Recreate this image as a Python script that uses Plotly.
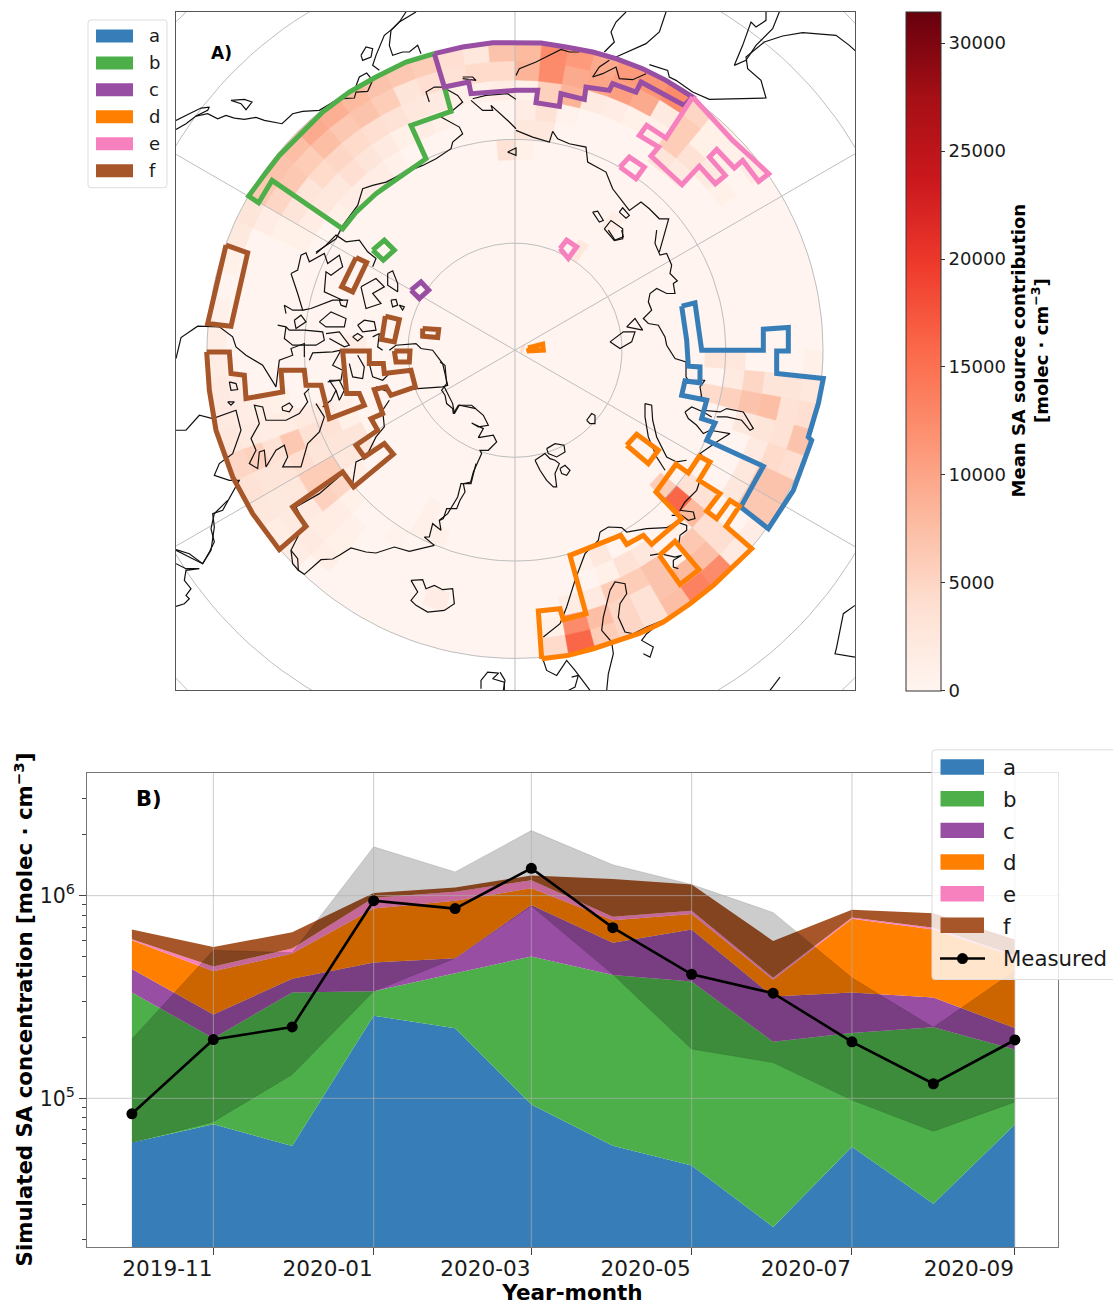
import math
import plotly.graph_objects as go
from plotly.colors import sample_colorscale

# ---------- panel B data (molec cm-3, stacked boundaries) ----------
months = ["2019-10-01", "2019-11-01", "2019-12-01", "2020-01-01", "2020-02-01", "2020-03-01",
          "2020-04-01", "2020-05-01", "2020-06-01", "2020-07-01", "2020-08-01", "2020-09-01"]
top_a = [60500, 74500, 58100, 255700, 221600, 93300, 58300, 46600, 23200, 57600, 30200, 74200]
top_b = [333000, 198000, 333000, 337000, 414000, 501000, 406000, 377000, 190000, 210000, 224000, 174000]
top_c = [435000, 259000, 389000, 468000, 491000, 899000, 586000, 681000, 318000, 333000, 314000, 222000]
top_d = [603000, 423000, 518000, 863000, 944000, 1089000, 755000, 812000, 385000, 770000, 681000, 501000]
top_e = [610000, 447000, 549000, 976000, 1046000, 1192000, 786000, 843000, 393000, 780000, 695000, 508000]
top_f = [681000, 558000, 659000, 1029000, 1098000, 1257000, 1207000, 1135000, 598000, 853000, 819000, 608000]
measured = [83900, 195000, 225000, 944000, 863000, 1364000, 695000, 409000, 330000, 190000, 118000, 194000]
meas_upper = [196000, 537000, 523000, 1742000, 1309000, 2094000, 1420000, 1135000, 826000, 393000, 224000, 426000]
meas_lower = [60500, 76700, 131000, 337000, 491000, 889000, 409000, 175000, 150000, 98000, 68700, 96000]

names = ["a", "b", "c", "d", "e", "f"]
colors = ["#377eb8", "#4daf4a", "#984ea3", "#ff7f00", "#f781bf", "#a65628"]
tops = [top_a, top_b, top_c, top_d, top_e, top_f]
x_ticks = ["2019-11-01", "2020-01-01", "2020-03-01", "2020-05-01", "2020-07-01", "2020-09-01"]
x_range = ["2019-09-13 22:00", "2020-09-17 10:00"]
y_major = [1e5, 1e6]
y_minor = [2e4, 3e4, 4e4, 5e4, 6e4, 7e4, 8e4, 9e4, 2e5, 3e5, 4e5, 5e5, 6e5, 7e5, 8e5, 9e5, 2e6, 3e6]

# ---------- panel A data: mean source contribution, cell = lat band -> {west lon: value} ----------
ring_60 = {-180: 7000, -175: 2500, -170: 4000, -165: 6000, -160: 6500, -155: 7000, -150: 8000, -145: 9000,
           -140: 9500, -135: 7500, -130: 7000, -125: 6500, -120: 3000, -115: 2200, -110: 1000, -100: 800, -95: 1200,
           -90: 1500, -85: 2000, -80: 2000, -75: 2500, -70: 5000, -65: 3500, -60: 2500, -55: 1800, -50: 1500,
           5: 4500, 10: 16000, 15: 6000, 20: 5000, 25: 3500, 30: 7500, 35: 13500, 40: 12500, 45: 2000, 50: 1500,
           55: 6500, 60: 7000, 65: 4000, 70: 7000, 75: 4000, 80: 2500, 85: 1000,
           125: 1500, 130: 800, 135: 1000, 140: 5000, 145: 12500, 150: 11500, 155: 11000, 160: 9500,
           165: 11000, 170: 12500, 175: 8000}
ring_62 = {-180: 4500, -175: 4500, -170: 3500, -165: 4000, -160: 3000, -155: 6000, -150: 7000, -145: 6500,
           -140: 7500, -135: 6000, -130: 6500, -125: 5000, -120: 1500, -85: 1500, -80: 1500, -75: 2000, -70: 5500,
           -65: 3000, -60: 2200, -55: 2000, -50: 2000, -45: 1200, 5: 1000, 10: 12500, 15: 7500, 20: 5000, 25: 3500,
           30: 7000, 35: 8000, 40: 7500, 45: 4000, 55: 6500, 60: 7000, 65: 4500, 70: 3500, 75: 3500, 80: 3000,
           130: 1000, 135: 1000, 140: 6000, 145: 2000, 150: 9500, 155: 10500, 160: 10000, 165: 9500,
           170: 12500, 175: 8500}
ring_64 = {-180: 1500, -175: 800, -170: 700, -165: 2000, -160: 2500, -155: 3500, -150: 4000, -145: 4500,
           -140: 5000, -135: 4500, -130: 3000, -125: 3000, -120: 1000, -80: 1200, -75: 1500, -70: 3500, -65: 3000,
           -60: 2500, -55: 2000, -50: 1800, -45: 1000, -20: 1500, 10: 1500, 15: 2000, 20: 6000, 25: 6000, 30: 7000,
           40: 6500, 45: 4000, 55: 2500, 60: 2500, 65: 2000, 70: 3000, 75: 7500, 80: 3000,
           125: 1000, 130: 2000, 135: 3500, 140: 6000, 145: 800, 150: 1000, 155: 1500, 160: 2000, 165: 8500,
           170: 5500, 175: 800}
ring_66 = {-165: 800, -160: 1500, -155: 1000, -150: 2000, -145: 3000, -140: 4000, -135: 2500, -130: 2500, -125: 1500,
           -120: 1000, -80: 1000, -75: 1800, -70: 6500, -65: 4000, -60: 6000, -55: 5500, -50: 1500, -45: 800,
           20: 1000, 25: 3500, 30: 2500, 40: 1000, 45: 8000, 50: 3500, 70: 2500, 75: 7000, 80: 5000,
           135: 2000, 140: 3000, 165: 500, 170: 3500, 175: 1500}
ring_68 = {-150: 800, -145: 1500, -140: 1500, -135: 1500, -130: 1000, -75: 2000, -70: 3500, -65: 3000, -60: 6000,
           -55: 5000, -50: 1000, -35: 600, 15: 1000, 20: 2500, 45: 16000, 50: 3500, 75: 5500, 80: 2000, 85: 2500,
           170: 2500, 175: 2500}
ring_70 = {-180: 3500, -75: 2000, -70: 3500, -65: 3000, -60: 2500, -55: 1200, -30: 700, -25: 700,
           45: 6000, 75: 4500, 85: 3000, 175: 900}
ring_72 = {-75: 800, -70: 1000, -65: 3000, -60: 2500, -30: 700}
ring_74 = {-95: 1500, 140: 1200}
ring_78 = {145: 2500}
rings = {60: ring_60, 62: ring_62, 64: ring_64, 66: ring_66, 68: ring_68, 70: ring_70, 72: ring_72, 74: ring_74, 78: ring_78}

map_lats = [80, 70, 60, 50, 40]
map_lons = [0, 60, 120, 180, -60, -120]
cbar_ticks = [0, 5000, 10000, 15000, 20000, 25000, 30000]
cbar_max = 31440
reds = [[0, "#fff5f0"], [.125, "#fee0d2"], [.25, "#fcbba1"], [.375, "#fc9272"], [.5, "#fb6a4a"],
        [.625, "#ef3b2c"], [.75, "#cb181d"], [.875, "#a50f15"], [1, "#67000d"]]

# ---------- digitised outlines: (tile west, tile north), then points on a 3x grid inside the tile ----------
T1 = (176, 12); T2 = (516, 12); T3 = (176, 230); T4 = (560, 230); T5 = (500, 440); T6 = (176, 500); T9 = (440, 300)

coast = [
 (T1, [(0,352),(30,335),(60,312),(95,295),(100,285),(75,288),(40,305),(0,325)]),
 (T1, [(60,312),(95,305),(125,320),(150,310),(175,318),(205,322),(240,316),(265,325),(318,335),(350,305),(380,298),(430,295),(480,265),(500,260),(535,258),(540,240),(575,238),(590,205),(572,183),(550,195),(540,222)]),
 (T1, [(610,175),(590,160),(600,130),(625,70),(650,50),(670,30),(720,0)]),
 (T1, [(555,130),(570,105),(590,110),(585,135),(560,145),(555,130)]),
 (T1, [(690,0),(670,30),(645,55),(640,100),(650,130),(680,120),(700,120),(725,100),(735,125)]),
 (T1, [(165,265),(205,262),(228,270),(210,293),(195,275),(165,265)]),
 (T1, [(760,270),(750,240),(775,225),(800,225),(845,250),(860,270),(830,295),(795,315),(850,345),(860,365),(830,390),(825,410),(780,440),(740,460),(690,480),(630,510),(590,520),(560,530),(545,580),(500,640),(480,680),(420,720)]),
 (T1, [(885,265),(920,295),(950,295),(945,280),(1000,330),(1020,350)]),
 (T1, [(890,260),(930,250),(995,245),(1020,262)]),
 (T1, [(860,195),(890,195),(900,205),(860,200)]),
 (T1, [(995,420),(1020,408),(1020,430),(995,420)]),
 (T2, [(0,355),(50,375),(100,390),(110,358),(125,380),(160,395),(210,405),(215,450),(270,480),(290,530),(340,595),(375,570),(400,590),(430,620),(458,620),(445,670),(430,720)]),
 (T2, [(0,190),(10,170),(60,150),(135,112),(160,120),(190,120)]),
 (T2, [(265,120),(295,90),(285,60),(300,30),(330,0)]),
 (T2, [(300,135),(390,95),(430,60),(450,0)]),
 (T2, [(400,158),(455,175),(460,195),(480,205),(530,240),(580,262),(750,258),(735,205),(695,170),(690,135),(745,90),(800,72),(860,62),(960,70),(1000,100),(1020,118)]),
 (T2, [(655,160),(680,100),(705,30),(720,45),(750,25),(750,0)]),
 (T2, [(655,160),(690,145),(720,100),(770,50),(790,0)]),
 (T2, [(230,195),(250,165),(280,145)]),
 (T2, [(230,195),(260,185),(300,165),(310,200),(350,203),(390,185)]),
 (T2, [(230,600),(245,597),(262,625),(250,630),(230,600)]),
 (T2, [(310,600),(320,587),(340,610),(330,618),(310,600)]),
 (T2, [(265,650),(285,625),(320,650),(320,680),(295,685),(265,650)]),
 (T3, [(0,385),(15,322),(65,288),(130,290),(170,320),(180,350),(210,375),(260,405),(300,470),(310,390),(350,375),(345,355),(385,340),(385,380)]),
 (T3, [(400,390),(410,368),(470,365),(495,360),(470,405),(500,420),(495,450),(460,450),(480,480),(465,510),(440,530)]),
 (T3, [(160,455),(180,460),(185,478),(165,480),(160,455)]),
 (T3, [(155,515),(175,515),(165,525),(155,515)]),
 (T3, [(318,530),(340,518),(350,530),(340,545),(320,540),(318,530)]),
 (T3, [(420,520),(445,560),(430,605),(395,640),(375,710),(320,710),(335,680),(325,645),(300,660),(270,710),(265,660),(250,665),(245,715),(220,700),(240,660),(225,625),(250,580),(235,525),(260,530),(270,570),(330,570),(370,550),(395,515),(385,490),(400,475)]),
 (T3, [(0,600),(30,600),(70,555),(110,565),(180,540),(195,600),(170,670),(130,700),(115,735),(160,750),(190,750),(140,840),(110,850),(115,890),(105,960),(80,1000),(50,985),(0,960)]),
 (T3, [(345,130),(365,120),(375,75),(390,68),(400,95),(445,70),(455,100),(490,75),(500,110),(465,135),(450,125),(445,185),(500,210),(470,210),(405,235),(380,240),(365,190),(345,130)]),
 (T3, [(420,70),(450,45),(480,15),(510,35),(550,30),(575,65),(600,85),(590,110)]),
 (T3, [(330,250),(325,225),(350,240),(380,240)]),
 (T3, [(305,285),(330,290),(340,300),(385,300),(440,305),(445,330),(420,345),(350,345),(325,325),(330,290)]),
 (T3, [(355,270),(375,255),(390,275),(360,295),(355,270)]),
 (T3, [(430,275),(465,245),(510,265),(505,290),(450,290),(430,275)]),
 (T3, [(545,285),(565,270),(595,275),(600,300),(560,305),(545,285)]),
 (T3, [(530,320),(545,310),(560,320),(545,332),(530,320)]),
 (T3, [(450,310),(490,305),(520,345),(505,350),(460,325)]),
 (T3, [(635,130),(650,122),(665,160),(665,185),(635,165),(635,130)]),
 (T3, [(645,210),(660,208),(665,225),(650,230),(645,210)]),
 (T3, [(670,225),(685,230),(680,240),(670,225)]),
 (T3, [(555,170),(600,145),(625,170),(590,190),(615,220),(570,235),(555,170)]),
 (T3, [(490,210),(515,210),(510,230),(495,225),(490,210)]),
 (T3, [(520,400),(530,440),(560,445),(565,410),(545,375)]),
 (T3, [(580,400),(590,440),(620,450),(640,430)]),
 (T3, [(455,455),(490,450),(505,480),(490,510),(480,480)]),
 (T3, [(590,320),(610,310),(605,350),(620,360)]),
 (T3, [(600,470),(650,490),(690,480),(725,475),(800,470),(815,465),(800,400),(770,360),(735,355),(720,340),(660,345),(640,360)]),
 (T3, [(640,510),(620,540),(625,590),(600,620),(570,680),(540,695),(530,760),(500,730),(430,790),(360,830),(385,880),(345,960),(350,1000),(367,1020)]),
 (T3, [(805,470),(830,520),(835,550),(850,525),(900,535)]),
 (T9, [(0,185),(15,195),(20,250),(5,270),(15,285),(20,310),(38,325),(40,340),(55,315),(95,315),(130,345),(145,375),(115,380),(95,368),(130,385),(115,412),(160,405),(170,425),(145,450),(120,450),(125,460),(100,515),(92,545),(70,550),(75,575),(60,600),(50,625),(20,625),(10,655),(0,660)]),
 (T9, [(285,480),(315,460),(330,475),(345,480),(358,490),(345,520),(350,560),(340,560),(320,540),(300,510),(285,480)]),
 (T9, [(320,445),(345,430),(372,435),(375,455),(350,470),(325,460),(320,445)]),
 (T9, [(360,505),(375,495),(390,510),(380,525),(365,520),(360,505)]),
 (T9, [(440,360),(455,340),(465,345),(465,370),(450,370),(440,360)]),
 (T3, [(900,700),(885,760),(855,760),(845,800),(815,850),(790,870),(795,900),(770,880),(760,920),(745,920),(775,945)]),
 (T6, [(775,135),(700,153),(655,140),(600,158),(570,155),(525,143),(490,165),(470,176),(435,178),(385,222),(367,210),(365,175),(345,150)]),
 (T6, [(705,240),(740,238),(750,265),(775,255),(800,268),(830,265),(835,310),(805,330),(755,335),(720,315),(705,300),(725,275),(705,240)]),
 (T6, [(155,0),(115,40),(105,85),(115,125),(100,155),(80,190),(40,160),(0,148)]),
 (T6, [(0,190),(30,205),(70,205),(30,210),(25,240),(45,265),(30,285),(40,295),(25,310),(0,318)]),
 (T6, [(915,565),(915,540),(935,515),(968,518),(950,535),(985,545),(985,570)]),
 (T4, [(290,0),(285,40),(300,75),(320,70),(335,105),(330,130),(352,152),(340,160),(345,190),(320,190),(290,175),(270,190),(265,215),(275,240),(250,265),(265,280),(295,285),(315,320),(320,345),(345,385),(378,395),(378,440),(385,450),(435,450),(420,470),(425,500),(395,505),(440,510),(430,540),(480,545),(500,535),(550,545),(580,595),(570,600),(545,570),(500,560),(470,560)]),
 (T4, [(375,545),(395,530),(430,545),(455,560)]),
 (T4, [(375,545),(385,565),(410,585),(430,610),(450,600),(480,605),(510,610),(470,635),(420,670),(440,690)]),
 (T4, [(150,335),(190,305),(225,305),(215,335),(180,355),(150,335)]),
 (T4, [(200,290),(225,265),(248,300),(200,290)]),
 (T4, [(145,0),(165,30),(190,20),(185,0)]),
 (T4, [(255,520),(275,525),(278,570),(290,620),(320,680),(350,695),(380,690)]),
 (T4, [(255,520),(255,560),(265,620),(290,680),(315,720)]),
 (T5, [(600,120),(590,150),(555,185),(540,210),(580,215),(585,235),(565,240),(545,225),(515,225)]),
 (T5, [(300,275),(325,260),(365,262),(380,275),(440,265),(500,262),(530,245),(560,255),(560,270),(540,285),(535,320)]),
 (T5, [(450,345),(480,340),(525,350),(545,345),(520,360),(520,380),(535,385)]),
 (T5, [(330,450),(345,425),(375,430),(380,460),(360,490),(355,530),(375,575),(400,580),(440,560),(490,540),(440,580),(425,600),(460,620),(450,650),(430,640)]),
 (T5, [(300,275),(295,300),(255,340),(225,420),(200,500),(180,550),(130,590)]),
 (T5, [(330,450),(310,530),(305,570),(335,605),(340,640),(325,700),(320,750)]),
 (T5, [(130,660),(140,690),(170,705),(200,660),(225,690),(270,750)]),
 (T5, [(215,710),(235,705),(225,740),(205,750)]),
 (T5, [(840,710),(825,730),(810,750)]),
 (T5, [(1065,495),(1030,520),(1010,620),(1005,640),(1065,650)]),
 (T5, [(0,695),(15,720),(10,750)]),
]

region_a = [[(T4, [(365,228),(405,218),(425,360),(610,360),(610,297),(685,292),(685,362),(650,362),(650,430),(790,445),(775,520),(745,620)]),
             (T5, [(935,0),(880,150),(805,265),(722,200),(790,78),(620,0)]),
             (T4, [(440,630),(465,578),(425,565),(440,510),(365,495),(375,452),(420,458),(420,410),(385,408),(380,330),(365,228)])]]
region_b = [[(T1, [(775,125),(690,150),(600,195),(520,240),(440,300),(370,370),(310,430),(260,495),(218,552),(248,572),(288,505),(500,650),(540,600),(600,545),(680,490),(750,440),(705,340),(825,298),(805,225)])],
            [(T3, [(590,60),(625,30),(655,60),(622,90),(590,60)])]]
region_c = [[(T1, [(775,125),(860,105),(950,92)]),
             (T2, [(0,92),(75,93),(150,105),(230,120),(300,140),(380,170),(450,205),(530,255),(505,280),(375,210),(360,240),(290,215),(280,235),(210,225),(205,262),(135,245),(130,283),(60,272),(65,235),(0,235)]),
             (T1, [(885,245),(878,210),(805,225),(775,125)])],
            [(T3, [(705,180),(735,155),(758,180),(730,205),(705,180)])]]
region_d = [[(T5, [(125,655),(205,645),(280,625),(345,605),(420,578),(490,545),(570,490),(640,435),(700,380),(755,325),(678,258),(718,198),(690,180),(650,235),(620,212),(660,160),(597,120),(630,65),(598,48),(565,98),(528,72),(468,155),(545,235),(455,312),(430,285),(380,312),(362,285),(210,345),(258,520),(190,538),(180,505),(115,512),(125,655)])],
            [(T5, [(478,345),(525,303),(597,388),(540,432),(478,345)])],
            [(T4, [(200,645),(230,612),(295,660),(265,700),(200,645)])],
            [(T9, [(264,143),(308,132),(310,150),(267,152),(264,143)])]]
region_e = [[(T2, [(530,255),(585,315),(650,385),(710,440),(758,485),(728,508),(680,445),(655,468),(602,412),(580,435),(628,490),(598,515),(550,462),(498,518),(405,432),(428,405),(370,370),(392,340),(450,378),(530,255)])],
            [(T2, [(312,465),(340,435),(385,465),(360,500),(312,465)])],
            [(T4, [(0,55),(20,30),(50,50),(25,85),(0,55)])]]
region_f = [[(T3, [(150,45),(215,68),(165,288),(95,280),(150,45)])],
            [(T3, [(540,82),(572,97),(530,185),(497,170),(540,82)])],
            [(T3, [(628,258),(670,268),(655,335),(617,328),(628,258)])],
            [(T3, [(740,295),(788,298),(785,322),(740,318),(740,295)])],
            [(T3, [(655,362),(702,362),(700,395),(660,395),(655,362)])],
            [(T3, [(92,365),(160,365),(165,430),(205,435),(210,505),(320,485),(315,420),(385,420),(390,465),(435,465),(460,565),(565,525),(550,490),(512,490),(500,362),(580,362),(580,400),(622,400),(625,430),(705,420),(718,470),(645,495),(630,470),(595,478),(620,550),(585,565),(605,600),(540,645),(565,680),(625,640),(652,672),(533,770),(500,725),(350,830),(390,888),(310,958),(230,850),(170,740),(120,600),(100,480),(92,365)])]]
regions = [region_a, region_b, region_c, region_d, region_e, region_f]

# ---------- helpers ----------
POLE_X, POLE_Y, EARTH_R = 1545, 1050, 1848
W, H = 1113, 1305

def px(x):
    return x / W

def py(y):
    return 1 - y / H

def project(lat, lon):
    c = EARTH_R * math.cos(math.radians(lat))
    return POLE_X + c * math.sin(math.radians(lon)), POLE_Y + c * math.cos(math.radians(lon))

def tile_points(parts):
    xs, ys = [], []
    for (ox, oy), pts in parts:
        for a, b in pts:
            xs.append(ox * 3 + a)
            ys.append(oy * 3 + b)
    return xs, ys

def colour(v):
    return sample_colorscale(reds, [min(v / cbar_max, 1)])[0]

MAP = dict(xaxis="x2", yaxis="y2", hoverinfo="skip", showlegend=False)
fig = go.Figure()

# ---------- panel B ----------
fig.add_trace(go.Scatter(x=months, y=tops[0], mode="lines", line=dict(width=0), fill="tozeroy",
                         fillcolor=colors[0], hoverinfo="skip", showlegend=False))
for top, col in zip(tops[1:], colors[1:]):
    fig.add_trace(go.Scatter(x=months, y=top, mode="lines", line=dict(width=0), fill="tonexty",
                             fillcolor=col, hoverinfo="skip", showlegend=False))
fig.add_trace(go.Scatter(x=months, y=meas_lower, mode="lines", line=dict(width=.6, color="rgba(0,0,0,.2)"),
                         hoverinfo="skip", showlegend=False))
fig.add_trace(go.Scatter(x=months, y=meas_upper, mode="lines", line=dict(width=.6, color="rgba(0,0,0,.2)"),
                         fill="tonexty", fillcolor="rgba(0,0,0,.2)", hoverinfo="skip", showlegend=False))
GRID_B = "rgba(176,176,176,.65)"
for t in x_ticks:
    fig.add_trace(go.Scatter(x=[t, t], y=[10**4.266, 10**6.606], mode="lines", line=dict(width=1, color=GRID_B),
                             hoverinfo="skip", showlegend=False))
for v in y_major:
    fig.add_trace(go.Scatter(x=x_range, y=[v, v], mode="lines", line=dict(width=1, color=GRID_B),
                             hoverinfo="skip", showlegend=False))
fig.add_trace(go.Scatter(x=months, y=measured, mode="lines+markers", name="Measured",
                         line=dict(color="black", width=2.6), marker=dict(color="black", size=11), showlegend=False))

# ---------- panel A: disc, cells, grid, coast, regions ----------
disc = [project(60, a) for a in range(0, 361, 3)]
fig.add_trace(go.Scatter(x=[p[0] for p in disc], y=[p[1] for p in disc], mode="lines", fill="toself",
                         fillcolor=colour(100), line=dict(width=0), **MAP))

groups = {}
cx, cy, cv = [], [], []
for lat0, ring in rings.items():
    for lon0, val in ring.items():
        q = round(val / 250) * 250
        gx, gy = groups.setdefault(q, ([], []))
        corner = [(lat0, lon0), (lat0, lon0 + 2.5), (lat0, lon0 + 5), (lat0 + 2, lon0 + 5),
                  (lat0 + 2, lon0 + 2.5), (lat0 + 2, lon0), (lat0, lon0)]
        pts = [project(*c) for c in corner]
        gx += [p[0] for p in pts] + [None]
        gy += [p[1] for p in pts] + [None]
        cen = project(lat0 + 1, lon0 + 2.5)
        cx.append(cen[0]); cy.append(cen[1]); cv.append(val)
for q in sorted(groups):
    gx, gy = groups[q]
    fig.add_trace(go.Scatter(x=gx, y=gy, mode="lines", fill="toself", fillcolor=colour(q),
                             line=dict(width=.5, color=colour(q)), **MAP))
sliver = [project(89.4, 100), project(89.0, 120), project(89.3, 60), project(89.4, 100)]
fig.add_trace(go.Scatter(x=[p[0] for p in sliver], y=[p[1] for p in sliver], mode="lines", fill="toself",
                         fillcolor=colour(4000), line=dict(width=2, color=colour(4000)), **MAP))

# colour bar carrier: invisible markers on the cell centres
fig.add_trace(go.Scatter(x=cx + [cx[0]], y=cy + [cy[0]], mode="markers",
                         marker=dict(size=1, opacity=0, color=cv + [cbar_max], cmin=0, cmax=cbar_max, colorscale=reds,
                                     colorbar=dict(x=px(906), xanchor="left", y=py(692), yanchor="bottom",
                                                   len=py(12) - py(692), lenmode="fraction", thickness=35,
                                                   thicknessmode="pixels", outlinecolor="#333", outlinewidth=1,
                                                   ticks="outside", ticklen=4, tickcolor="#333", tickvals=cbar_ticks,
                                                   tickformat="d", xpad=0, ypad=0,
                                                   tickfont=dict(size=18, color="#1a1a1a"))), **MAP))

grid_col = "#bdbdbd"
for lat in map_lats:
    pts = [project(lat, a) for a in range(0, 361, 2)]
    fig.add_trace(go.Scatter(x=[p[0] for p in pts], y=[p[1] for p in pts], mode="lines",
                             line=dict(width=1, color=grid_col), **MAP))
for lon in map_lons:
    pts = [project(lat, lon) for lat in (90, 0)]
    fig.add_trace(go.Scatter(x=[p[0] for p in pts], y=[p[1] for p in pts], mode="lines",
                             line=dict(width=1, color=grid_col), **MAP))

kx, ky = [], []
for tile, pts in coast:
    xs, ys = tile_points([(tile, pts)])
    kx += xs + [None]
    ky += ys + [None]
fig.add_trace(go.Scatter(x=kx, y=ky, mode="lines", line=dict(width=1.2, color="#111"), **MAP))

for region, col in zip(regions, colors):
    for poly in region:
        xs, ys = tile_points(poly)
        fig.add_trace(go.Scatter(x=xs, y=ys, mode="lines", line=dict(width=5, color=col), **MAP))

# ---------- hand-placed legends, swatches from the category lists ----------
shapes, notes = [], []

def rect(x0, y0, x1, y1, fill):
    shapes.append(dict(type="rect", xref="paper", yref="paper", layer="above", x0=px(x0), x1=px(x1),
                       y0=py(y1), y1=py(y0), fillcolor=fill, line=dict(width=0)))

def box(x0, y0, x1, y1, r=3):
    path = (f"M{px(x0+r)},{py(y0)} L{px(x1-r)},{py(y0)} Q{px(x1)},{py(y0)} {px(x1)},{py(y0+r)} L{px(x1)},{py(y1-r)} "
            f"Q{px(x1)},{py(y1)} {px(x1-r)},{py(y1)} L{px(x0+r)},{py(y1)} Q{px(x0)},{py(y1)} {px(x0)},{py(y1-r)} "
            f"L{px(x0)},{py(y0+r)} Q{px(x0)},{py(y0)} {px(x0+r)},{py(y0)} Z")
    shapes.append(dict(type="path", xref="paper", yref="paper", layer="above", path=path,
                       fillcolor="rgba(255,255,255,.8)", line=dict(width=1, color="#dddddd")))

def label(x, y, text, size):
    notes.append(dict(xref="paper", yref="paper", x=px(x), y=py(y), text=text, showarrow=False,
                      xanchor="left", yanchor="middle", font=dict(size=size, color="#1a1a1a")))

box(88, 20, 167, 188)
for i, (n, c) in enumerate(zip(names, colors)):
    rect(96, 29.5 + 27 * i, 133, 42.5 + 27 * i, c)
    label(147, 36 + 27 * i, n, 18)

box(932, 751, 1125, 981)
for i, (n, c) in enumerate(zip(names, colors)):
    rect(940.5, 760.5 + 31.7 * i, 984, 776 + 31.7 * i, c)
    label(1001, 769 + 31.7 * i, n, 21.3)
shapes.append(dict(type="line", xref="paper", yref="paper", layer="above", x0=px(940), x1=px(985),
                   y0=py(960), y1=py(960), line=dict(color="black", width=2.6)))
shapes.append(dict(type="circle", xref="paper", yref="paper", layer="above", x0=px(957), x1=px(968),
                   y0=py(965.5), y1=py(954.5), fillcolor="black", line=dict(width=0)))
label(1001, 960, "Measured", 21.3)

notes.append(dict(xref="paper", yref="paper", x=px(221), y=py(53), text="<b>A)</b>", showarrow=False,
                  xanchor="center", yanchor="middle", font=dict(size=17, color="black")))
notes.append(dict(xref="paper", yref="paper", x=px(149), y=py(800), text="<b>B)</b>", showarrow=False,
                  xanchor="center", yanchor="middle", font=dict(size=21, color="black")))
notes.append(dict(xref="paper", yref="paper", x=px(1030), y=py(351), textangle=-90, showarrow=False,
                  xanchor="center", yanchor="middle",
                  text="<b>Mean SA source contribution<br>[molec · cm<sup>−3</sup>]</b>",
                  font=dict(size=18, color="black")))
notes.append(dict(xref="paper", yref="paper", x=px(24), y=py(1011), textangle=-90, showarrow=False,
                  xanchor="center", yanchor="middle",
                  text="<b>Simulated SA concentration [molec · cm<sup>−3</sup>]</b>",
                  font=dict(size=21.3, color="black")))

frame = "#777777"
fig.update_layout(
    width=W, height=H, margin=dict(l=0, r=0, t=0, b=0), paper_bgcolor="white", plot_bgcolor="white",
    font=dict(family="DejaVu Sans", color="#1a1a1a"), showlegend=False, shapes=shapes, annotations=notes,
    xaxis=dict(domain=[px(87), px(1058)], anchor="y", type="date", range=x_range,
               tickvals=x_ticks, tickformat="%Y-%m", tickfont=dict(size=21.6), ticklabelshift=-46, ticklabelstandoff=-5,
               ticks="outside", ticklen=7, tickcolor="#444", showgrid=False, zeroline=False, showline=True, mirror=True,
               linecolor=frame, title=dict(text="<b>Year-month</b>", font=dict(size=21.5, color="black"), standoff=9)),
    yaxis=dict(domain=[py(1249), py(774)], anchor="x", type="log", range=[4.266, 6.606],
               tickvals=y_major, ticktext=["10<sup>5</sup>", "10<sup>6</sup>"], tickfont=dict(size=20.5), ticks="outside",
               ticklen=7, tickcolor="#444", showgrid=False, zeroline=False, showline=True, mirror=True, linecolor=frame,
               minor=dict(tickvals=y_minor, ticks="outside", ticklen=4, tickcolor="#444", showgrid=False)),
    xaxis2=dict(domain=[px(176), px(855)], anchor="y2", range=[528, 2565], visible=True, showticklabels=False,
                ticks="", showgrid=False, zeroline=False, showline=True, mirror=True, linecolor="#555"),
    yaxis2=dict(domain=[py(691.5), py(12)], anchor="x2", range=[2070, 36], showticklabels=False,
                ticks="", showgrid=False, zeroline=False, showline=True, mirror=True, linecolor="#555"),
)

# keep the page exactly one figure tall, with no inline baseline gap under the plot
fig.write_html("out.html", config=dict(displayModeBar=False),
               post_script=("var s=document.body.style;s.margin='0';s.height='1305px';s.overflow='hidden';"
                            "document.documentElement.style.height='1305px';"
                            "document.documentElement.style.overflow='hidden';"
                            "document.querySelectorAll('body>div,.plot-container,.svg-container')"
                            ".forEach(function(d){d.style.display='block';});"))
